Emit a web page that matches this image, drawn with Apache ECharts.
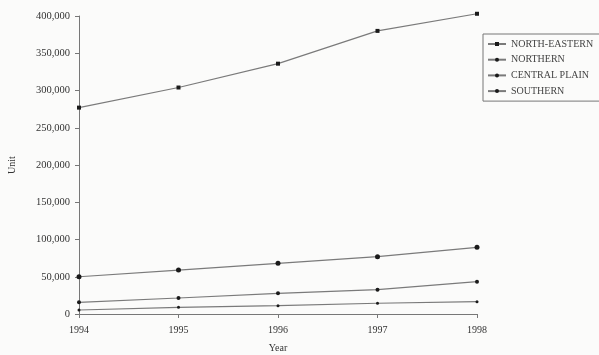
<!DOCTYPE html>
<html>
<head>
<meta charset="utf-8">
<script src="https://cdn.jsdelivr.net/npm/echarts@6/dist/echarts.min.js"></script>
<style>
  html, body { margin: 0; padding: 0; background: #fbfbfa; }
  #chart { width: 599px; height: 355px; }
</style>
</head>
<body>
<div id="chart"></div>
<script>
// Annual units by region, 1994-1998
const years = ['1994', '1995', '1996', '1997', '1998'];
const northEastern = [277000, 304000, 336000, 380000, 403000];
const northern = [50000, 59000, 68000, 77000, 89500];
const centralPlain = [15700, 21500, 27800, 32600, 43400];
const southern = [5400, 9000, 11200, 14400, 16500];

const seriesNames = ['NORTH-EASTERN', 'NORTHERN', 'CENTRAL PLAIN', 'SOUTHERN'];
const seriesData = [northEastern, northern, centralPlain, southern];
const symbols = ['rect', 'circle', 'circle', 'circle'];
const symbolSizes = [4, 5, 4, 3];

const serif = '"Liberation Serif", "DejaVu Serif", serif';
const chart = echarts.init(document.getElementById('chart'));

chart.setOption({
  backgroundColor: '#fbfbfa',
  animation: false,
  grid: { left: 79, right: 122, top: 16, bottom: 41, outerBoundsMode: 'none', containLabel: false },
  legend: {
    orient: 'vertical',
    left: 483,
    top: 34,
    padding: [5, 8, 5, 4],
    itemGap: 5.7,
    itemWidth: 18,
    itemHeight: 5,
    borderColor: '#777',
    borderWidth: 1,
    borderRadius: 0,
    textStyle: { fontFamily: serif, fontSize: 10, color: '#444' },
    data: seriesNames
  },
  xAxis: {
    type: 'category',
    data: years,
    boundaryGap: false,
    name: 'Year',
    nameLocation: 'middle',
    nameGap: 29,
    nameTextStyle: { fontFamily: serif, fontSize: 10, color: '#333' },
    axisLine: { lineStyle: { color: '#777', width: 1 } },
    axisTick: { alignWithLabel: true, length: 4, lineStyle: { color: '#777' } },
    axisLabel: { fontFamily: serif, fontSize: 10, color: '#333', margin: 11 }
  },
  yAxis: {
    type: 'value',
    min: 0,
    max: 400000,
    interval: 50000,
    name: 'Unit',
    nameLocation: 'middle',
    nameGap: 62,
    nameTextStyle: { fontFamily: serif, fontSize: 10, color: '#333' },
    axisLine: { show: true, lineStyle: { color: '#777', width: 1 } },
    axisTick: { show: true, length: 4, lineStyle: { color: '#777' } },
    splitLine: { show: false },
    axisLabel: {
      fontFamily: serif, fontSize: 10.5, color: '#333', margin: 9,
      formatter: v => v.toLocaleString('en-US')
    }
  },
  series: seriesData.map((d, i) => ({
    name: seriesNames[i],
    type: 'line',
    data: d,
    clip: false,
    symbol: symbols[i],
    symbolSize: symbolSizes[i],
    showSymbol: true,
    itemStyle: { color: '#1a1a1a' },
    lineStyle: { color: '#7a7a7a', width: 1.2 }
  }))
});
</script>
</body>
</html>
